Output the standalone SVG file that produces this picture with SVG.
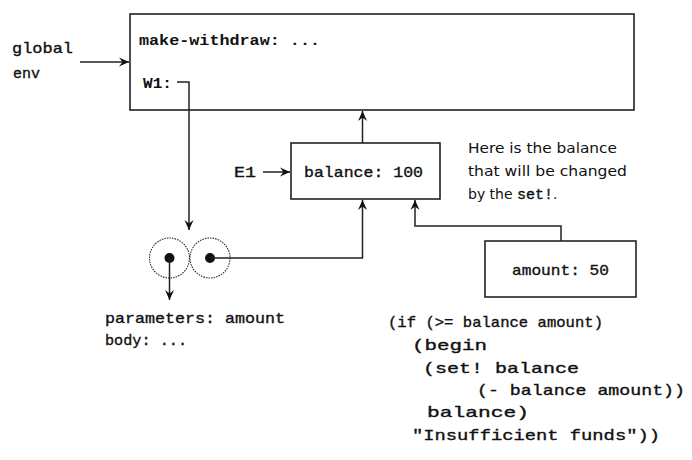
<svg xmlns="http://www.w3.org/2000/svg" width="692" height="460" viewBox="0 0 692 460">
<defs>
<marker id="arr" viewBox="0 0 10 10" refX="10" refY="5" markerWidth="10" markerHeight="10" markerUnits="userSpaceOnUse" orient="auto">
<path d="M0,0.5 L10,5 L0,9.5 L3.5,5 z" fill="#111"/>
</marker>
<style>
.box{fill:#fff;stroke:#222;stroke-width:1.6}
.ln{fill:none;stroke:#222;stroke-width:1.5}
.mono{font-family:"Liberation Mono","DejaVu Sans Mono",monospace;font-size:15px;fill:#111;stroke:#111;stroke-width:0.35}
.b{font-weight:bold;stroke-width:0}
.sans{font-family:"DejaVu Sans","Liberation Sans",sans-serif;font-size:14px;fill:#111}
.pair{fill:#fff;stroke:#333;stroke-width:1.1;stroke-dasharray:1.6 1}
.dot{fill:#111}
</style>
</defs>
<rect width="692" height="460" fill="#fff"/>

<g id="global-env">
<rect class="box" x="130" y="14" width="504" height="96"/>
<text class="mono b" x="139" y="45" textLength="181" lengthAdjust="spacingAndGlyphs">make-withdraw: ...</text>
<text class="mono b" x="143" y="88" textLength="29" lengthAdjust="spacingAndGlyphs">W1:</text>
</g>

<g id="global-label">
<text class="mono" x="12" y="53" textLength="61" lengthAdjust="spacingAndGlyphs">global</text>
<text class="mono" x="13" y="78" textLength="27" lengthAdjust="spacingAndGlyphs">env</text>
</g>

<g id="E1">
<rect class="box" x="291" y="143" width="149" height="56"/>
<text class="mono" x="304" y="177" textLength="119" lengthAdjust="spacingAndGlyphs">balance: 100</text>
<text class="mono" x="234" y="177" textLength="22" lengthAdjust="spacingAndGlyphs">E1</text>
</g>

<g id="note">
<text class="sans" x="468" y="153" textLength="149" lengthAdjust="spacingAndGlyphs">Here is the balance</text>
<text class="sans" x="468" y="176" textLength="159" lengthAdjust="spacingAndGlyphs">that will be changed</text>
<text class="sans" x="468" y="199">by the <tspan class="mono" font-size="14">set!</tspan>.</text>
</g>

<g id="amount-frame">
<rect class="box" x="485" y="241" width="151" height="56"/>
<text class="mono" x="512" y="275" textLength="97" lengthAdjust="spacingAndGlyphs">amount: 50</text>
</g>

<g id="procedure">
<circle class="pair" cx="169.5" cy="258" r="20"/>
<circle class="pair" cx="210" cy="258" r="20"/>
<circle class="dot" cx="169.5" cy="258" r="5"/>
<circle class="dot" cx="210" cy="258" r="5"/>
<text class="mono" x="105" y="323" textLength="180" lengthAdjust="spacingAndGlyphs">parameters: amount</text>
<text class="mono" x="105" y="345" textLength="82" lengthAdjust="spacingAndGlyphs">body: ...</text>
</g>

<g id="code">
<text class="mono" x="388" y="327" textLength="215" lengthAdjust="spacingAndGlyphs">(if (&gt;= balance amount)</text>
<text class="mono" x="412" y="350" textLength="75" lengthAdjust="spacingAndGlyphs">(begin</text>
<text class="mono" x="423" y="373" textLength="156" lengthAdjust="spacingAndGlyphs">(set! balance</text>
<text class="mono" x="477" y="395" textLength="208" lengthAdjust="spacingAndGlyphs">(- balance amount))</text>
<text class="mono" x="427" y="417" textLength="102" lengthAdjust="spacingAndGlyphs">balance)</text>
<text class="mono" x="412" y="440" textLength="248" lengthAdjust="spacingAndGlyphs">"Insufficient funds"))</text>
</g>

<g id="connectors">
<line class="ln" x1="80" y1="62" x2="129" y2="62" marker-end="url(#arr)"/>
<polyline class="ln" points="177,82 189,82 189,230" marker-end="url(#arr)"/>
<line class="ln" x1="263" y1="172" x2="290" y2="172" marker-end="url(#arr)"/>
<line class="ln" x1="362.5" y1="143" x2="362.5" y2="111" marker-end="url(#arr)"/>
<polyline class="ln" points="210,258 362.5,258 362.5,200" marker-end="url(#arr)"/>
<polyline class="ln" points="561,241 561,226 415,226 415,200" marker-end="url(#arr)"/>
<line class="ln" x1="169.5" y1="258" x2="169.5" y2="300" marker-end="url(#arr)"/>
</g>
</svg>
